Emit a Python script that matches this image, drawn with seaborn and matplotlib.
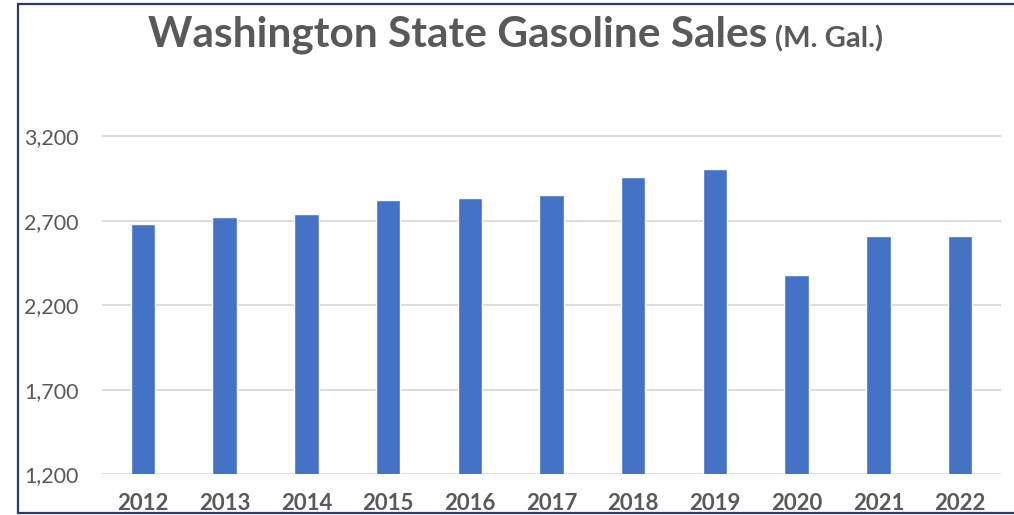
import matplotlib
matplotlib.use("Agg")
import matplotlib.pyplot as plt
import seaborn as sns
import pandas as pd
from matplotlib.lines import Line2D
from matplotlib.ticker import FuncFormatter

# Annual gasoline sales, millions of gallons
years = ["2012", "2013", "2014", "2015", "2016", "2017",
         "2018", "2019", "2020", "2021", "2022"]
sales = [2680, 2725, 2743, 2824, 2834, 2850, 2959, 3004, 2380, 2611, 2611]
y_ticks = [1200, 1700, 2200, 2700, 3200]

df = pd.DataFrame({"year": years, "sales": sales})

sns.set_theme(style="white")
plt.rcParams["font.family"] = ["Lato", "DejaVu Sans"]

fig = plt.figure(figsize=(10.14, 5.15), dpi=100)
ax = fig.add_axes([102 / 1014, 1 - 474 / 515, (1001 - 102) / 1014, (474 - 52) / 515])

sns.barplot(data=df, x="year", y="sales", color="#4472C4", saturation=1,
            width=0.3, ax=ax, zorder=3)

ax.set_ylim(1200, 3700)
ax.set_xlim(-0.5, len(years) - 0.5)
ax.set_yticks(y_ticks)
ax.yaxis.set_major_formatter(FuncFormatter(lambda v, p: f"{int(v):,}"))
ax.yaxis.grid(True, color="#D9D9D9", linewidth=1.3, zorder=0)
ax.xaxis.grid(False)
for s in ax.spines.values():
    s.set_visible(False)
ax.set_xlabel("")
ax.set_ylabel("")
ax.tick_params(axis="y", length=0, pad=17, labelsize=15.5, labelcolor="#595959")
ax.tick_params(axis="x", length=0, pad=14, labelsize=16, labelcolor="#595959")
for t in ax.get_xticklabels():
    t.set_fontweight("bold")

# Title in two parts: main text and a smaller unit note
title_main = fig.text(148 / 1014, 1 - 35 / 515, "Washington State Gasoline Sales",
                      fontsize=30.5, fontweight="bold", color="#595959",
                      ha="left", va="center")
fig.canvas.draw()
bb = title_main.get_window_extent()
fig.text((bb.x1 + 8) / 1014, 1 - 39 / 515, "(M. Gal.)",
         fontsize=21, fontweight="bold", color="#595959", ha="left", va="center")

# Frame lines around the chart
frame = dict(color="#2E3B66", linewidth=1.6, transform=fig.transFigure)
fig.add_artist(Line2D([18 / 1014, 18 / 1014], [1 - 4 / 515, 1 - 513 / 515], **frame))
fig.add_artist(Line2D([18 / 1014, 1.0], [1 - 4 / 515, 1 - 4 / 515], **frame))
fig.add_artist(Line2D([18 / 1014, 1.0], [1 - 513 / 515, 1 - 513 / 515], **frame))

fig.savefig("out.png", dpi=100, facecolor="white")
